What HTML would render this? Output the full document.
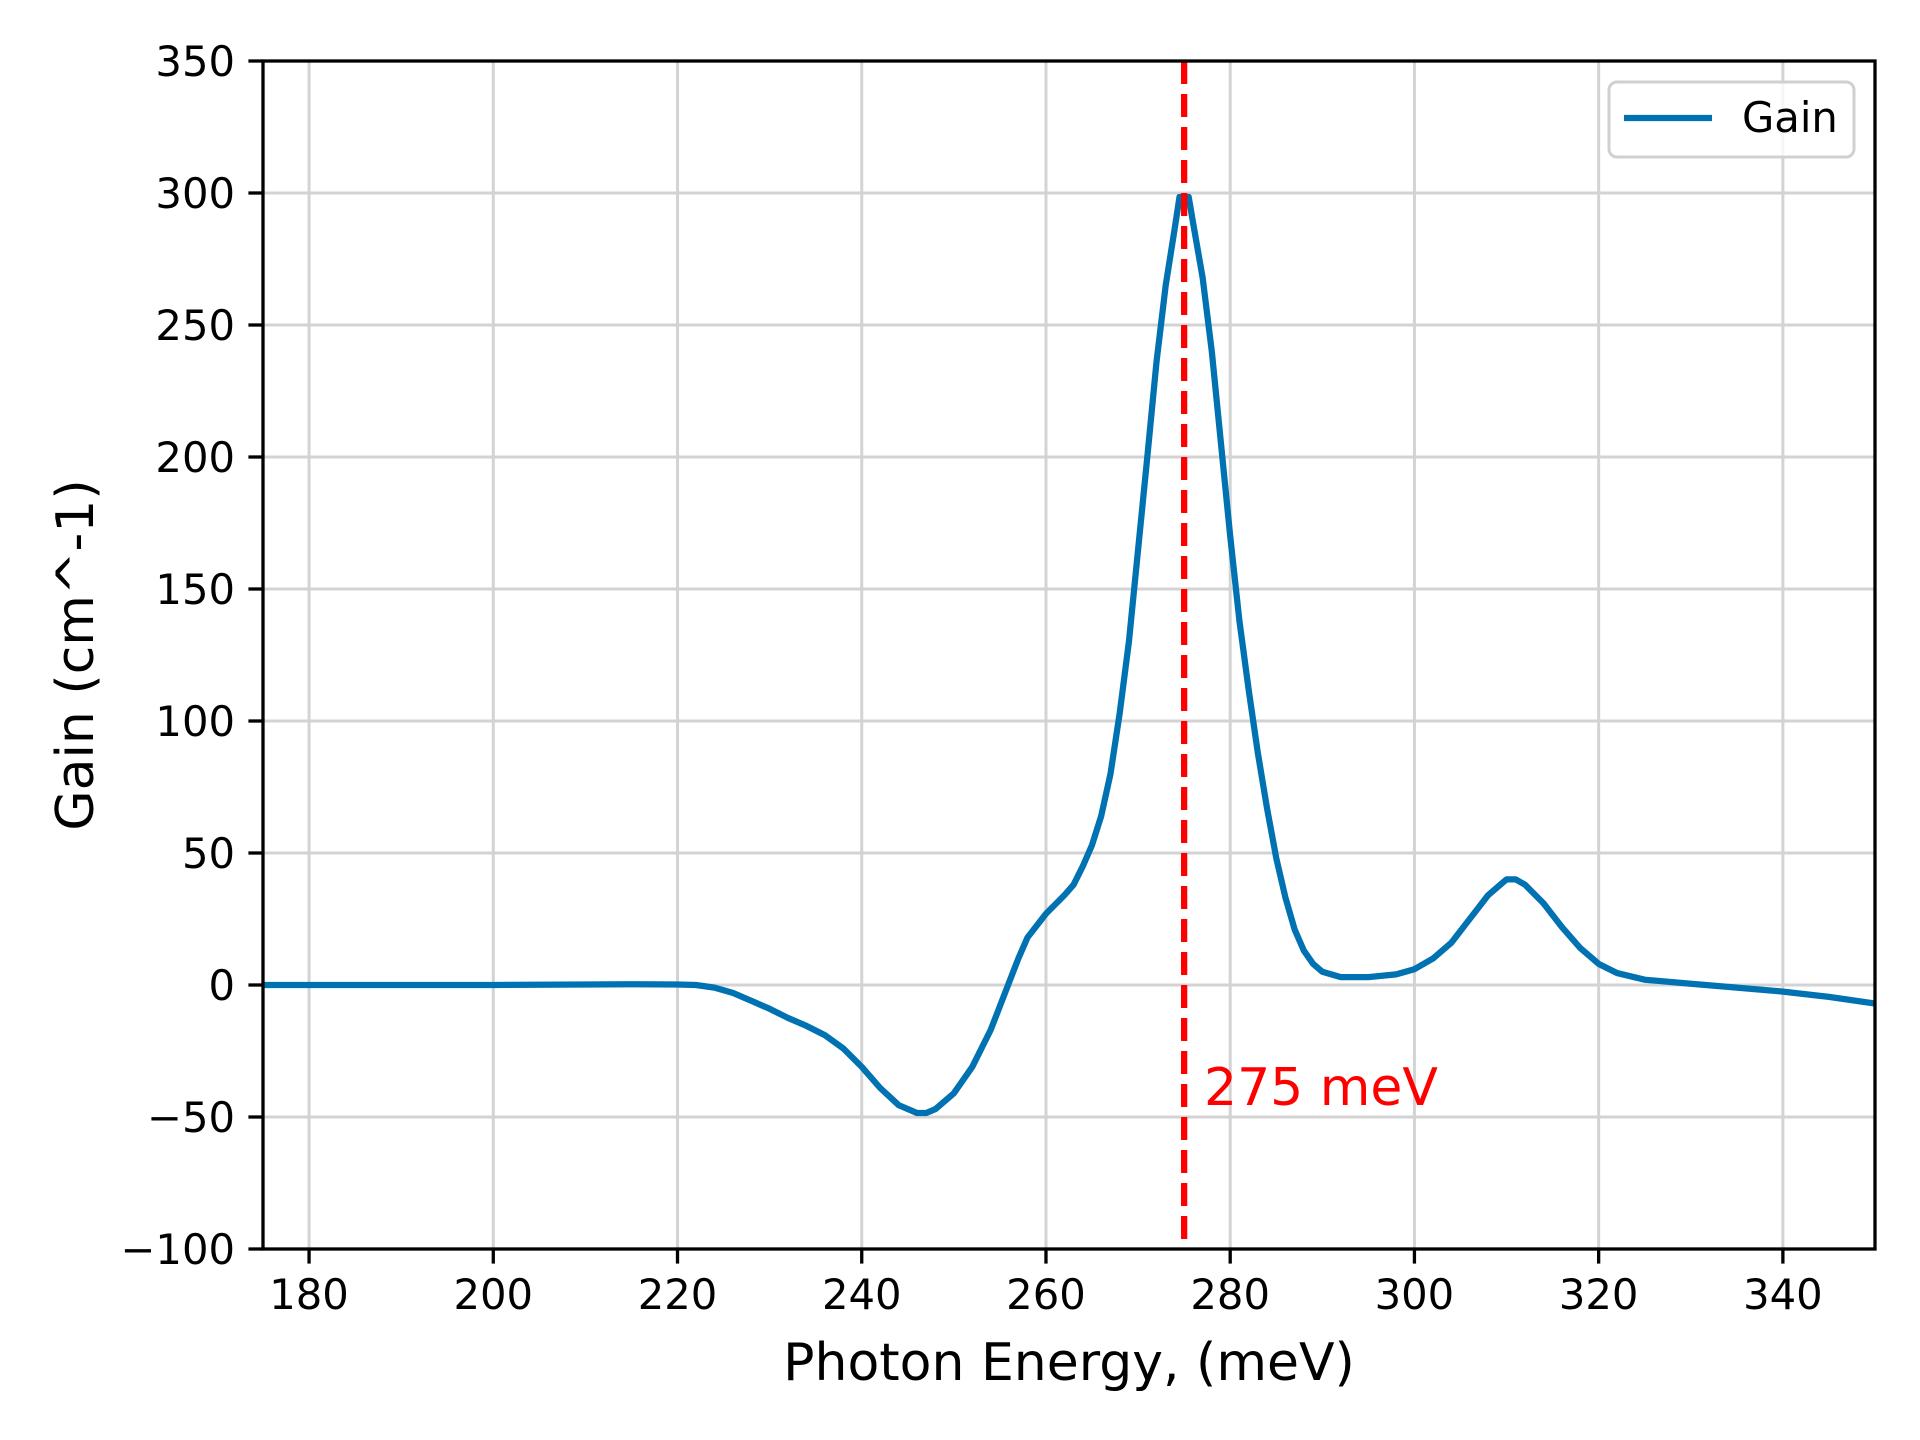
<!DOCTYPE html>
<html><head><meta charset="utf-8"><style>
html,body{margin:0;padding:0;background:#fff;}
svg{display:block;font-family:"DejaVu Sans","Liberation Sans",sans-serif;}
</style></head><body>
<svg id="chart" width="1920" height="1440" viewBox="0 0 1920 1440">
<rect width="1920" height="1440" fill="#fff"/>
<g id="grid"></g>
<g id="series"></g>
<rect x="263" y="61" width="1612" height="1188" fill="none" stroke="#000" stroke-width="3.3"/>
<g id="ticks"></g>
<text x="1069" y="1380" font-size="52" text-anchor="middle">Photon Energy, (meV)</text>
<text transform="translate(93,655) rotate(-90)" font-size="52" text-anchor="middle">Gain (cm^-1)</text>
<text x="1204" y="1105" font-size="52" fill="#ff0000">275 meV</text>
<g>
<rect x="1609" y="82" width="245" height="75" rx="8" fill="#fff" fill-opacity="0.8" stroke="#d0d0d0" stroke-width="3"/>
<line x1="1624" y1="118" x2="1712" y2="118" stroke="#0072b2" stroke-width="6.25"/>
<text x="1742" y="132" font-size="41.7">Gain</text>
</g>
</svg>
<script>
const energies=[175,180,190,200,210,215,220,222,224,226,228,230,232,234,236,238,240,242,244,246,247,248,250,252,254,256,257,258,260,262,263,264,265,266,267,268,269,270,271,272,273,274,274.5,275.5,276,277,278,279,280,281,282,283,284,285,286,287,288,289,290,292,295,298,300,302,304,306,308,310,311,312,314,316,318,320,322,325,330,335,340,345,350];
const gains=[0,0,0,0,0.2,0.3,0.2,0,-1,-3,-6,-9,-12.5,-15.5,-19,-24,-31,-39,-45.5,-48.5,-48.5,-47,-41,-31,-17,1,10,18,27,34,38,45,53,64,80,103,130,165,200,236,265,287,298.5,298.5,288,268,240,205,170,138,112,88,67,48,33,21,13,8,5,3,3,4,6,10,16,25,34,40,40,38,31,22,14,8,4.5,2,0.5,-1,-2.5,-4.5,-7];
const xTicks=[180,200,220,240,260,280,300,320,340];
const yTicks=[-100,-50,0,50,100,150,200,250,300,350];
const yTickLabels=["\u2212100","\u221250","0","50","100","150","200","250","300","350"];
const markerEnergy=275;
const X0=263,X1=1875,Y0=61,Y1=1249,XMIN=175,XMAX=350,YMIN=-100,YMAX=350;
const xs=v=>X0+(v-XMIN)/(XMAX-XMIN)*(X1-X0);
const ys=v=>Y1-(v-YMIN)/(YMAX-YMIN)*(Y1-Y0);
const NS="http://www.w3.org/2000/svg";
function mk(tag,attrs,parent){const e=document.createElementNS(NS,tag);for(const k in attrs)e.setAttribute(k,attrs[k]);parent.appendChild(e);return e;}
const grid=document.getElementById('grid'),ticks=document.getElementById('ticks'),series=document.getElementById('series');
xTicks.forEach(t=>{
  const g=mk('line',{x1:xs(t),x2:xs(t),y1:Y0,y2:Y1,stroke:'#d3d3d3','stroke-width':3},grid);
  
  
  const tk=mk('line',{x1:xs(t),x2:xs(t),y1:Y1,y2:Y1+14.6,stroke:'#000','stroke-width':3.3},ticks);
  
  
  const tx=mk('text',{x:xs(t),y:Y1+60,'font-size':41.7,'text-anchor':'middle'},ticks);
  tx.textContent=t;
  
  
});
yTicks.forEach((t,i)=>{
  const g=mk('line',{x1:X0,x2:X1,y1:ys(t),y2:ys(t),stroke:'#d3d3d3','stroke-width':3},grid);
  
  
  const tk=mk('line',{x1:X0-14.6,x2:X0,y1:ys(t),y2:ys(t),stroke:'#000','stroke-width':3.3},ticks);
  
  
  const tx=mk('text',{x:X0-28,y:ys(t)+15,'font-size':41.7,'text-anchor':'end'},ticks);
  tx.textContent=yTickLabels[i];
  
  
});
const d=energies.map((e,i)=>(i?'L':'M')+xs(e).toFixed(1)+' '+ys(gains[i]).toFixed(1)).join(' ');
const clip=mk('clipPath',{id:'pc'},series);
mk('rect',{x:X0,y:Y0,width:X1-X0,height:Y1-Y0},clip);
const line=mk('path',{d:d,fill:'none',stroke:'#0072b2','stroke-width':6.25,'stroke-linejoin':'round','clip-path':'url(#pc)'},series);


const vl=mk('line',{x1:xs(markerEnergy),x2:xs(markerEnergy),y1:Y0,y2:Y1,stroke:'#ff0000','stroke-width':6.25,'stroke-dasharray':'23 10'},series);


</script>
</body></html>
